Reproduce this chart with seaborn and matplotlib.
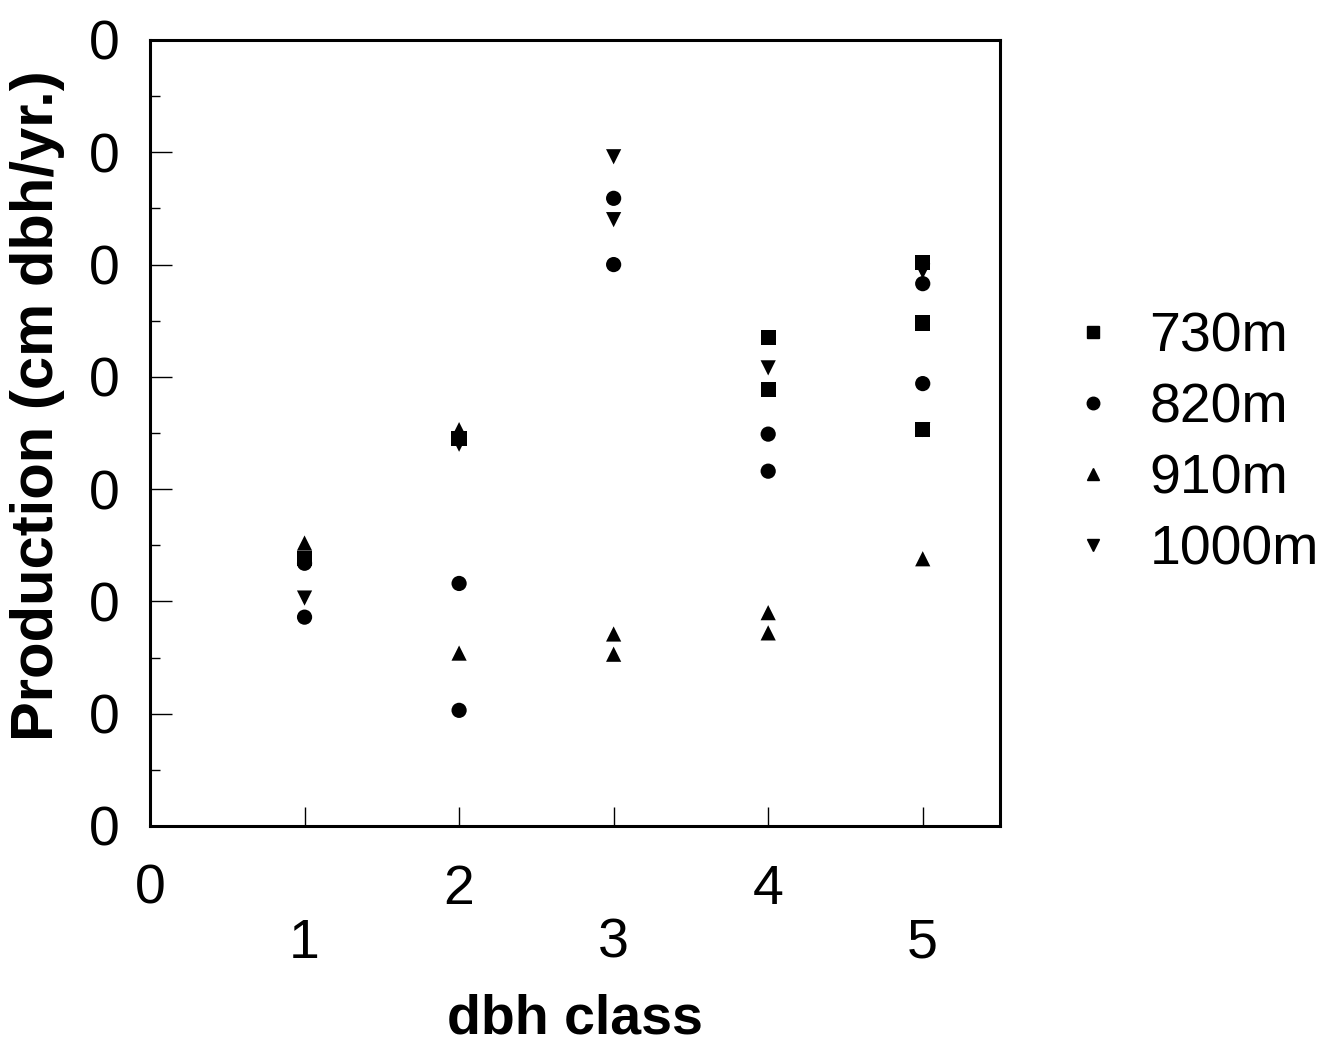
import matplotlib
matplotlib.use("Agg")
import matplotlib.pyplot as plt
from matplotlib.ticker import FixedLocator, FuncFormatter
import seaborn as sns
import pandas as pd

# dbh class and production values
sites = ["730m", "820m", "910m", "1000m"]
markers = {"730m": "s", "820m": "o", "910m": "^", "1000m": "v"}

class_730 = [1, 2, 4, 4, 5, 5, 5]
prod_730 = [0.238, 0.345, 0.435, 0.389, 0.502, 0.448, 0.353]

class_820 = [1, 1, 2, 2, 3, 3, 4, 4, 5, 5]
prod_820 = [0.234, 0.186, 0.216, 0.103, 0.559, 0.500, 0.349, 0.316, 0.483, 0.394]

class_910 = [1, 2, 2, 3, 3, 4, 4, 5]
prod_910 = [0.252, 0.353, 0.154, 0.171, 0.153, 0.190, 0.172, 0.238]

class_1000 = [1, 2, 3, 3, 4, 5, 5]
prod_1000 = [0.203, 0.340, 0.596, 0.540, 0.408, 0.494, 0.353]

x_ticks = [0, 1, 2, 3, 4, 5]
x_labels = ["0", "\n1", "2", "\n3", "4", "\n5"]

df = pd.concat([
    pd.DataFrame({"dbh class": class_730, "Production": prod_730, "site": "730m"}),
    pd.DataFrame({"dbh class": class_820, "Production": prod_820, "site": "820m"}),
    pd.DataFrame({"dbh class": class_910, "Production": prod_910, "site": "910m"}),
    pd.DataFrame({"dbh class": class_1000, "Production": prod_1000, "site": "1000m"}),
])

sns.set_style("ticks")
plt.rcParams["font.family"] = ["Liberation Sans", "DejaVu Sans"]
plt.rcParams["text.color"] = "black"
plt.rcParams["xtick.color"] = "black"
plt.rcParams["ytick.color"] = "black"
plt.rcParams["axes.labelcolor"] = "black"

fig = plt.figure(figsize=(13.43, 10.48), dpi=100)
ax = fig.add_axes([150 / 1343, 1 - 826 / 1048, 850 / 1343, 786 / 1048])

sns.scatterplot(data=df, x="dbh class", y="Production", style="site",
                style_order=sites, markers=markers, color="black",
                edgecolor="black", linewidth=0, s=120, ax=ax, legend=False)

ax.set_xlim(0, 5.5)
ax.set_ylim(0, 0.7)

ax.set_xticks(x_ticks)
ax.set_xticklabels(x_labels, fontsize=40)
for lbl in ax.get_xticklabels():
    lbl.set_linespacing(1.05)
ax.yaxis.set_major_locator(FixedLocator([i * 0.1 for i in range(8)]))
ax.yaxis.set_minor_locator(FixedLocator([i * 0.1 + 0.05 for i in range(7)]))
ax.yaxis.set_major_formatter(FuncFormatter(lambda v, p: "0"))
ax.tick_params(axis="y", labelsize=40)

ax.tick_params(axis="x", which="major", direction="in", length=14, width=1, pad=27)
ax.tick_params(axis="y", which="major", direction="in", length=16, width=1, pad=22)
ax.tick_params(axis="y", which="minor", direction="in", length=7, width=1)

for sp in ax.spines.values():
    sp.set_linewidth(2.2)
    sp.set_color("black")

ax.set_xlabel("dbh class", fontsize=40, fontweight="bold", labelpad=17)
ax.set_ylabel("Production (cm dbh/yr.)", fontsize=43, fontweight="bold")
ax.yaxis.set_label_coords(-0.1, 0.535)

handles = [plt.Line2D([], [], linestyle="none", marker=markers[s], color="black",
                      markersize=9) for s in sites]
fig.legend(handles, sites, loc="center left", frameon=False, fontsize=40,
           bbox_to_anchor=(1065 / 1343, 1 - 444 / 1048),
           bbox_transform=fig.transFigure, borderpad=0, borderaxespad=0,
           handlelength=1, handletextpad=0.52, labelspacing=0.34)

fig.savefig("out.png", dpi=100)
